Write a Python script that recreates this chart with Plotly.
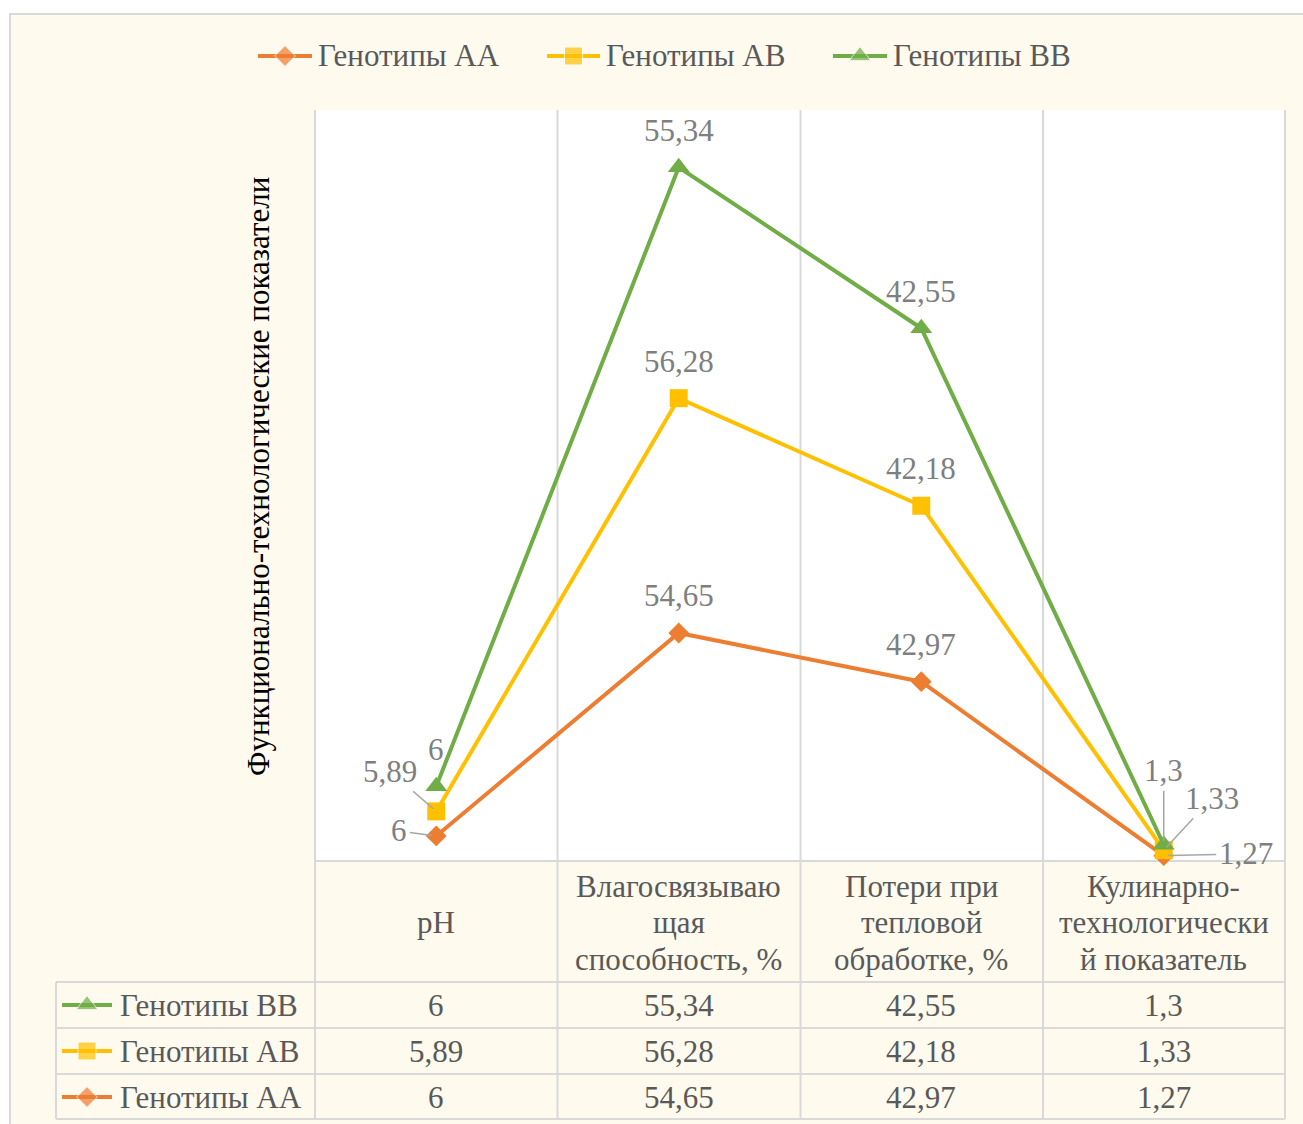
import numpy as np
import plotly.graph_objects as go

# ---- data ----
categories = ["pH", "Влагосвязывающая способность, %", "Потери при тепловой обработке, %",
              "Кулинарно-технологический показатель"]
header_lines = [["pH"],
                ["Влагосвязываю", "щая", "способность, %"],
                ["Потери при", "тепловой", "обработке, %"],
                ["Кулинарно-", "технологически", "й показатель"]]
series_names = ["Генотипы АА", "Генотипы АВ", "Генотипы ВВ"]
aa_values = [6, 54.65, 42.97, 1.27]
ab_values = [5.89, 56.28, 42.18, 1.33]
bb_values = [6, 55.34, 42.55, 1.3]
axis_title = "Функционально-технологические показатели"

series_values = [aa_values, ab_values, bb_values]
colors = ["#ED7D31", "#FFC000", "#70AD47"]
symbols = ["diamond", "square", "triangle-up"]
msizes = [16, 18, 19]

W, H = 1303, 1124
FONT = "Liberation Serif"
TXT = "#595959"
LBL = "#7F7F7F"
GRID = "#D9D9D9"
CREAM = "#FFFAEE"


def px(x):
    return x / W


def py(y):
    return 1 - y / H


def fmt(v):
    return f"{v:g}".replace(".", ",")


fig = go.Figure()

# stacked line series
for name, vals, c, s, ms in zip(series_names, series_values, colors, symbols, msizes):
    fig.add_trace(go.Scatter(
        x=categories, y=vals, name=name, stackgroup="one", fill="none",
        mode="lines+markers", line=dict(color=c, width=4),
        marker=dict(symbol=s, size=ms, color=c),
        cliponaxis=False, showlegend=False, hoverinfo="skip"))

cum = np.cumsum(np.array(series_values, dtype=float), axis=0)

# data labels; a few of them are pulled aside with leader lines
leaders = {(0, 0): (-37, -5), (1, 0): (-46, -40),
           (2, 3): (0, -74), (1, 3): (48, -52), (0, 3): (82, -2)}
annotations = []
for si, vals in enumerate(series_values):
    for ci, v in enumerate(vals):
        a = dict(x=categories[ci], y=cum[si, ci], xref="x", yref="y", text=fmt(v),
                 font=dict(family=FONT, size=31, color=LBL))
        if (si, ci) in leaders:
            ax, ay = leaders[(si, ci)]
            a.update(showarrow=True, arrowhead=0, arrowwidth=1.5, arrowcolor="#A6A6A6",
                     ax=ax, ay=ay, standoff=4, borderpad=2)
        else:
            a.update(showarrow=False, yshift=37)
        annotations.append(a)

# table header text
line_gap = 36.5
for ci, lines in enumerate(header_lines):
    n = len(lines)
    for li, t in enumerate(lines):
        yy = 922.5 + (li - (n - 1) / 2) * line_gap
        annotations.append(dict(x=categories[ci], xref="x", y=py(yy), yref="paper", text=t,
                                showarrow=False, yanchor="middle",
                                font=dict(family=FONT, size=31, color=TXT)))

# table body: rows BB, AB, AA
row_centers = [1005, 1051, 1097]
row_order = [2, 1, 0]
for rc, si in zip(row_centers, row_order):
    annotations.append(dict(x=px(118), xref="paper", y=py(rc), yref="paper", text=series_names[si],
                            showarrow=False, xanchor="left", yanchor="middle",
                            font=dict(family=FONT, size=31, color=TXT)))
    for ci, v in enumerate(series_values[si]):
        annotations.append(dict(x=categories[ci], xref="x", y=py(rc), yref="paper", text=fmt(v),
                                showarrow=False, yanchor="middle",
                                font=dict(family=FONT, size=31, color=TXT)))

# top legend text
legend_x = [(258, 312), (547, 600), (833, 887)]
for (x0, x1), name in zip(legend_x, series_names):
    annotations.append(dict(x=px(x1 + 4), xref="paper", y=py(56), yref="paper", text=name,
                            showarrow=False, xanchor="left", yanchor="middle",
                            font=dict(family=FONT, size=31, color=TXT)))

# vertical axis title
annotations.append(dict(x=px(258), xref="paper", y=py(477), yref="paper", text=axis_title,
                        showarrow=False, textangle=-90, xanchor="center", yanchor="middle",
                        font=dict(family=FONT, size=31, color="#000000")))

# legend keys (top legend and table row keys) on a pixel-space overlay axis
key_specs = []
for (x0, x1), si in zip(legend_x, range(3)):
    key_specs.append((x0, x1, 56, si))
for rc, si in zip(row_centers, row_order):
    key_specs.append((62, 112, rc, si))
for x0, x1, yy, si in key_specs:
    fig.add_trace(go.Scatter(
        x=[x0, (x0 + x1) / 2, x1], y=[yy, yy, yy], xaxis="x2", yaxis="y2",
        mode="lines+markers", line=dict(color=colors[si], width=4),
        marker=dict(symbol=symbols[si], size=[0, msizes[si], 0], color=colors[si]),
        showlegend=False, hoverinfo="skip"))

# background, plot area, grid and table lines
shapes = [
    dict(type="rect", xref="paper", yref="paper", x0=px(10), x1=px(W + 10), y0=py(14), y1=py(H + 10),
         fillcolor=CREAM, line=dict(color=GRID, width=2), layer="below"),
    dict(type="rect", xref="paper", yref="paper", x0=px(315), x1=px(1285), y0=py(110), y1=py(861),
         fillcolor="#FFFFFF", line=dict(width=0), layer="below"),
]
for xb in [315, 557.5, 800.5, 1043, 1285]:
    shapes.append(dict(type="line", xref="paper", yref="paper", x0=px(xb), x1=px(xb),
                       y0=py(110), y1=py(1119), line=dict(color=GRID, width=2), layer="below"))
shapes.append(dict(type="line", xref="paper", yref="paper", x0=px(315), x1=px(1285),
                   y0=py(861), y1=py(861), line=dict(color=GRID, width=2), layer="below"))
for yb in [982, 1028, 1074, 1119]:
    shapes.append(dict(type="line", xref="paper", yref="paper", x0=px(56), x1=px(1285),
                       y0=py(yb), y1=py(yb), line=dict(color=GRID, width=2), layer="below"))
shapes.append(dict(type="line", xref="paper", yref="paper", x0=px(56), x1=px(56),
                   y0=py(982), y1=py(1119), line=dict(color=GRID, width=2), layer="below"))

fig.update_layout(
    width=W, height=H, margin=dict(l=0, r=0, t=0, b=0),
    paper_bgcolor="#FFFFFF", plot_bgcolor="rgba(0,0,0,0)",
    showlegend=False,
    xaxis=dict(domain=[px(315), px(1285)], type="category", range=[-0.5, 3.5],
               showgrid=False, showticklabels=False, zeroline=False, showline=False, ticks=""),
    yaxis=dict(domain=[py(861), py(110)], range=[0, 180], showgrid=False,
               showticklabels=False, zeroline=False, showline=False, ticks=""),
    xaxis2=dict(domain=[0, 1], range=[0, W], visible=False, anchor="y2"),
    yaxis2=dict(domain=[0, 1], range=[H, 0], visible=False, anchor="x2"),
    shapes=shapes, annotations=annotations,
)

fig.write_html("out.html")
